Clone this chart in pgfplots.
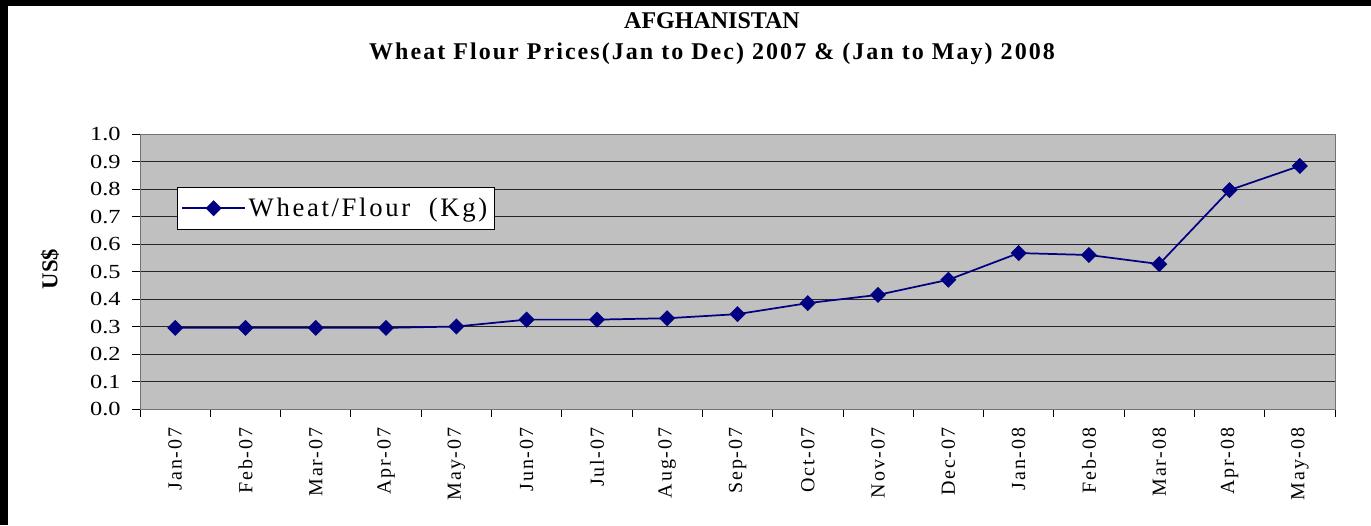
\documentclass[border=0pt]{standalone}
\usepackage{fontspec}
\setmainfont{Liberation Serif}
\newfontfamily\ytickfont[FakeStretch=1.22]{Liberation Serif}
\newfontfamily\xtickfont[LetterSpace=9]{Liberation Serif}
\newfontfamily\legfont[LetterSpace=10]{Liberation Serif}
\newfontfamily\titlefont[LetterSpace=8.5]{Liberation Serif}
\usepackage{pgfplots}
\pgfplotsset{compat=1.18}
\definecolor{navyline}{RGB}{0,0,128}
\definecolor{plotbg}{RGB}{192,192,192}
\begin{document}
\begin{tikzpicture}
% canvas 1371 x 525 px  (1px = 0.75pt)
\fill[white] (0pt,0pt) rectangle (1028.25pt,393.75pt);
\fill[black] (0pt,389.25pt) rectangle (1028.25pt,393.75pt);
\fill[black] (0pt,0pt) rectangle (6pt,393.75pt);
\node[font=\bfseries\fontsize{18}{20}\selectfont] at (534pt,378.5pt) {AFGHANISTAN};
\node[font=\titlefont\bfseries\fontsize{18}{20}\selectfont] at (534pt,353.5pt) {Wheat Flour Prices(Jan to Dec) 2007 \& (Jan to May) 2008};
\node[font=\bfseries\fontsize{17}{17}\selectfont, rotate=90] at (37.5pt,192pt) {US\$};
\begin{axis}[
  at={(105pt,87pt)}, anchor=south west,
  scale only axis, width=896.25pt, height=206.25pt,
  xmin=-0.5, xmax=16.5, ymin=0, ymax=1,
  axis background/.style={fill=plotbg},
  axis line style={draw=black!55},
  tick align=outside, tick pos=left,
  major tick length=6pt,
  tick style={black, line width=0.6pt},
  ytick={0,0.1,0.2,0.3,0.4,0.5,0.6,0.7,0.8,0.9,1.0},
  yticklabel style={/pgf/number format/fixed, /pgf/number format/fixed zerofill, /pgf/number format/precision=1, /pgf/number format/assume math mode=true, font=\ytickfont\fontsize{15}{15}\selectfont, xshift=-5pt},
  ymajorgrids, major grid style={black!85, line width=0.6pt},
  xtick={-0.5,0.5,...,16.5}, xticklabels={},
  extra x ticks={0,1,2,3,4,5,6,7,8,9,10,11,12,13,14,15,16},
  extra x tick labels={Jan-07,Feb-07,Mar-07,Apr-07,May-07,Jun-07,Jul-07,Aug-07,Sep-07,Oct-07,Nov-07,Dec-07,Jan-08,Feb-08,Mar-08,Apr-08,May-08},
  extra x tick style={major tick length=0pt, xticklabel style={rotate=90, anchor=east, inner xsep=14pt, font=\xtickfont\fontsize{15}{15}\selectfont}},
  legend style={at={(rel axis cs:0.031,0.807)}, anchor=north west, draw=black, fill=white,
    font=\legfont\fontsize{20}{22}\selectfont, inner xsep=3pt, inner ysep=6pt},
  legend image code/.code={\draw[#1, mark repeat=2, mark phase=2] plot coordinates {(0cm,0cm) (0.83cm,0cm) (1.66cm,0cm)};},
]
\addplot[navyline, line width=1.3pt, mark=square*, mark size=3.6pt, mark options={rotate=45, solid, fill=navyline}] coordinates {
(0,0.295) (1,0.295) (2,0.295) (3,0.295) (4,0.300) (5,0.325) (6,0.325) (7,0.330) (8,0.345)
(9,0.385) (10,0.415) (11,0.470) (12,0.567) (13,0.560) (14,0.527) (15,0.796) (16,0.884)
};
\addlegendentry{Wheat/Flour\ \ (Kg)}
\end{axis}
\end{tikzpicture}
\end{document}
